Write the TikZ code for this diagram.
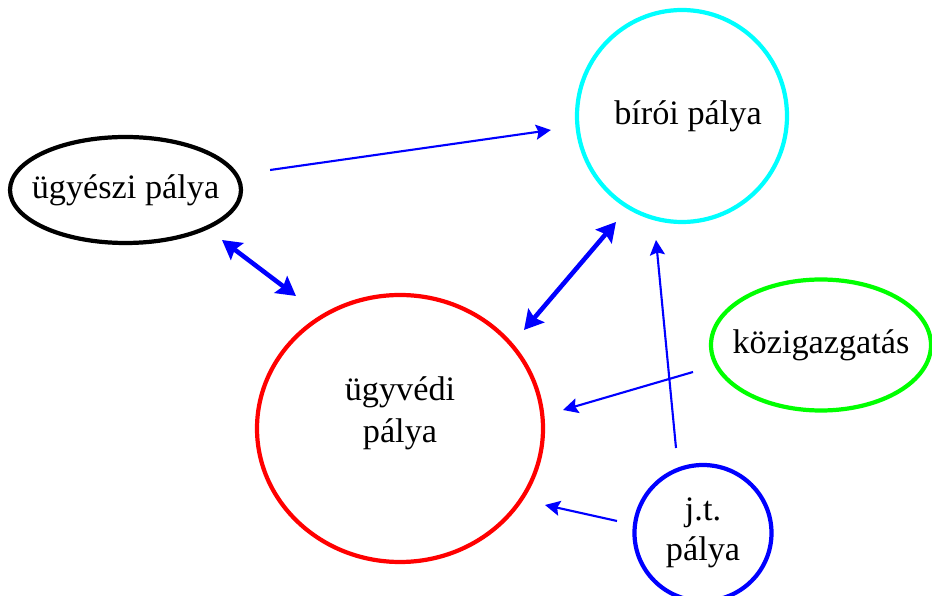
\documentclass[tikz,border=0pt]{standalone}
\usepackage{fontspec}
\setmainfont{Liberation Serif}
\usetikzlibrary{shapes.geometric, arrows.meta, calc}
\definecolor{birocolor}{RGB}{0, 255, 255}
\definecolor{kozigcolor}{RGB}{0, 255, 0}

\begin{document}
\begin{tikzpicture}[
    career/.style={ellipse, draw, line width=2.4pt, inner xsep=-0.3cm, inner ysep=0pt, align=center, font=\fontsize{19.5}{23}\selectfont},
    thinarrow/.style={-{Stealth[length=0.3cm, width=0.3cm, inset=0.05cm]}, blue, line width=1.2pt},
    thickarrow/.style={{Stealth[length=0.38cm, width=0.42cm, inset=0.06cm]}-{Stealth[length=0.38cm, width=0.42cm, inset=0.06cm]}, blue, line width=2.6pt}
]
\useasboundingbox (0, 0) rectangle (18.64, 11.92);

% Careers
\node[career, minimum width=4.62cm, minimum height=2.12cm] (ugyeszi) at (2.51, 8.12) {ügyészi pálya};
\node[career, draw=birocolor, minimum width=4.2cm, minimum height=4.24cm] (biroi) at (13.64, 9.60) {\hspace*{0.24cm}bírói pálya};
\node[career, draw=red, minimum width=5.72cm, minimum height=5.34cm, text depth=0.75cm] (ugyvedi) at (8.0, 3.35) {ügyvédi\\[1pt]pálya};
\node[career, draw=kozigcolor, minimum width=4.4cm, minimum height=2.62cm] (kozig) at (16.42, 5.02) {közigazgatás};
\node[career, draw=blue, minimum width=2.74cm, minimum height=2.72cm] (jt) at (14.06, 1.26) {j.t.\\pálya};

% Transitions
\draw[thinarrow] ($(ugyeszi.east) + (0.54, 0.40)$) -- ($(biroi.west) + (-0.48, -0.28)$);
\draw[thickarrow] ($(ugyeszi) + (1.93, -1.00)$) -- ($(ugyvedi) + (-2.08, 2.65)$);
\draw[thickarrow] ($(ugyvedi) + (2.48, 1.97)$) -- ($(biroi) + (-1.32, -2.12)$);
\draw[thinarrow] ($(jt) + (-0.54, 1.70)$) -- ($(biroi) + (-0.52, -2.48)$);
\draw[thinarrow] ($(kozig) + (-2.56, -0.54)$) -- ($(ugyvedi) + (3.26, 0.37)$);
\draw[thinarrow] ($(jt) + (-1.72, 0.24)$) -- ($(ugyvedi) + (2.90, -1.53)$);

\end{tikzpicture}
\end{document}
